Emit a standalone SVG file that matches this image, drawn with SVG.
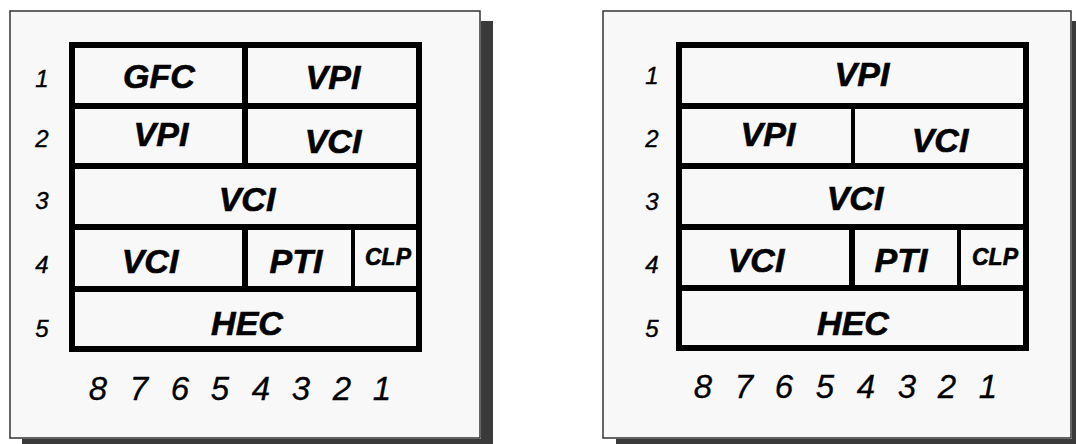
<svg xmlns="http://www.w3.org/2000/svg" width="1076" height="444" viewBox="0 0 1076 444">
<style>
.panel{fill:#f8f8f8;stroke:#333;stroke-width:1.5}
.shadow{fill:#3a3a3a}
.frame{fill:none;stroke:#000;stroke-width:6}
.div{stroke:#000;stroke-width:6;fill:none}
.sub{stroke:#000;stroke-width:4;fill:none}
.f{font-family:"Liberation Sans",Arial,sans-serif;font-weight:bold;font-style:italic;font-size:34px;text-anchor:middle;fill:#000;stroke:#000;stroke-width:0.6}
.s{font-size:23px}
.n{font-family:"Liberation Sans",Arial,sans-serif;font-style:italic;font-size:24px;text-anchor:middle;fill:#000;stroke:#000;stroke-width:0.4}
.b{font-family:"Liberation Sans",Arial,sans-serif;font-style:italic;font-size:33px;text-anchor:middle;fill:#000;stroke:#000;stroke-width:0.3}
</style>
<rect width="1076" height="444" fill="#fff"/>
<g id="left-panel">
<rect class="shadow" x="481" y="21" width="12" height="423"/>
<rect class="shadow" x="22" y="439" width="471" height="5"/>
<rect class="panel" x="10" y="11" width="470" height="427"/>
</g>
<g id="right-panel">
<rect class="shadow" x="1072" y="21" width="4" height="423"/>
<rect class="shadow" x="616" y="439" width="460" height="5"/>
<rect class="panel" x="603" y="11" width="468" height="427"/>
</g>
<g id="connectors">
<rect class="frame" x="72" y="45" width="347" height="304"/>
<path class="div" d="M72 106H419M72 166H419M72 227H419M72 289H419M245 45V166M245 227V289"/>
<path class="sub" d="M353 230V288"/>
<rect class="frame" x="679" y="45" width="347" height="303"/>
<path class="div" d="M679 106H1026M679 166H1026M679 227H1026M679 288H1026M852 227V288"/>
<path class="sub" d="M853 108V164M959 229V286"/>
</g>
<g id="left-labels">
<text class="n" x="42" y="87">1</text>
<text class="n" x="42" y="147">2</text>
<text class="n" x="42" y="209">3</text>
<text class="n" x="42" y="273">4</text>
<text class="n" x="42" y="337">5</text>
</g>
<g id="left-fields">
<text class="f" x="159" y="88">GFC</text>
<text class="f" x="333" y="89">VPI</text>
<text class="f" x="161" y="146">VPI</text>
<text class="f" x="333" y="153">VCI</text>
<text class="f" x="247" y="211">VCI</text>
<text class="f" x="150" y="273">VCI</text>
<text class="f" x="296" y="273">PTI</text>
<text class="f s" x="388" y="265">CLP</text>
<text class="f" x="247" y="335">HEC</text>
</g>
<g id="left-bits">
<text class="b" x="98" y="400">8</text>
<text class="b" x="139" y="400">7</text>
<text class="b" x="180" y="400">6</text>
<text class="b" x="220" y="400">5</text>
<text class="b" x="261" y="400">4</text>
<text class="b" x="301" y="400">3</text>
<text class="b" x="342" y="400">2</text>
<text class="b" x="382" y="400">1</text>
</g>
<g id="right-labels">
<text class="n" x="652" y="84">1</text>
<text class="n" x="652" y="147">2</text>
<text class="n" x="652" y="210">3</text>
<text class="n" x="652" y="273">4</text>
<text class="n" x="652" y="337">5</text>
</g>
<g id="right-fields">
<text class="f" x="862" y="86">VPI</text>
<text class="f" x="768" y="146">VPI</text>
<text class="f" x="940" y="152">VCI</text>
<text class="f" x="855" y="210">VCI</text>
<text class="f" x="756" y="272">VCI</text>
<text class="f" x="901" y="272">PTI</text>
<text class="f s" x="995" y="265">CLP</text>
<text class="f" x="853" y="335">HEC</text>
</g>
<g id="right-bits">
<text class="b" x="703" y="398">8</text>
<text class="b" x="744" y="398">7</text>
<text class="b" x="784" y="398">6</text>
<text class="b" x="825" y="398">5</text>
<text class="b" x="866" y="398">4</text>
<text class="b" x="907" y="398">3</text>
<text class="b" x="947" y="398">2</text>
<text class="b" x="988" y="398">1</text>
</g>
</svg>
